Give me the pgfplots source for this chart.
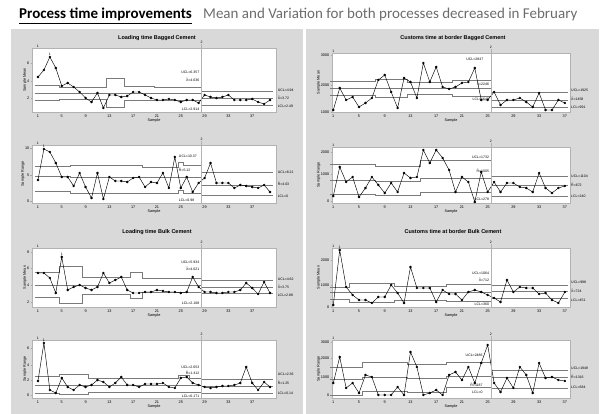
\documentclass[border=0pt]{standalone}
\usepackage{pgfplots}
\pgfplotsset{compat=1.18}
\usepackage{fontspec}
\setmainfont{Liberation Sans}
\newfontfamily\carlito{Carlito}
\definecolor{panel}{HTML}{D9D9D9}
\definecolor{limc}{HTML}{7A7A7A}
\tikzset{lbl/.style={font=\fontsize{3.5}{4}\selectfont, inner sep=0.4pt}}
\newcommand\XB{\={X}}
\newcommand\RB{\={R}}
\pgfplotsset{
 cc/.style={scale only axis, clip=false, axis background/.style={fill=white},
  axis line style={gray!60, line width=0.3pt}, ymin=0,
  tick style={gray!70,line width=0.3pt}, major tick length=1.5pt, tick align=outside,
  xtick pos=bottom, ytick pos=left, xtick={1,5,...,37},
  tick label style={font=\fontsize{3.8}{4}\selectfont, inner sep=1pt}, /pgf/number format/assume math mode=true,
  label style={font=\fontsize{3.8}{4}\selectfont},
  xlabel=Sample, xlabel style={yshift=3pt}, ylabel style={yshift=-4pt}},
 ccL/.style={cc, xmin=0, xmax=41, width=244pt},
 ccR/.style={cc, xmin=0.8, xmax=37.8, width=238pt},
 pts/.style={black, line width=0.45pt, mark=*, mark size=1pt, mark options={fill=black}},
 lim/.style={limc, line width=0.55pt, mark=none},
}
\begin{document}
\begin{tikzpicture}[x=1pt,y=1pt]
\path[use as bounding box] (0,0) rectangle (600,414);
\fill[panel] (11,0) rectangle (303,385);
\fill[panel] (306,0) rectangle (599,385);
\node[anchor=base west, inner sep=0, font=\carlito\fontsize{15}{17}\selectfont] at (19,395) {\underline{\textbf{Process time improvements}}};
\node[anchor=base west, inner sep=0, text=gray!85!black, font=\carlito\fontsize{15}{17}\selectfont] at (203,395) {Mean and Variation for both processes decreased in February};
\node[font=\bfseries\fontsize{5.5}{6}\selectfont] at (157,376) {Loading time Bagged Cement};
\node[font=\bfseries\fontsize{5.5}{6}\selectfont] at (453,376) {Customs time at border Bagged Cement};
\node[font=\bfseries\fontsize{5.5}{6}\selectfont] at (157,182) {Loading time Bulk Cement};
\node[font=\bfseries\fontsize{5.5}{6}\selectfont] at (453,182) {Customs time at border Bulk Cement};

% ---------- Chart 1: Loading Bagged, Xbar
\begin{axis}[ccL, at={(32pt,302pt)}, anchor=south west, height=64pt, ymax=64,
  ylabel={Sample Mean}, ytick={14,31,49}, yticklabels={2,4,6}]
\addplot[lim] coordinates {(0.5,27)(4.5,27)(4.5,25)(12.5,25)(12.5,34)(15.5,34)(15.5,26)(20.5,26)(20.5,25)(28.5,25)};
\addplot[lim] coordinates {(0.5,19)(28.5,19)};
\addplot[lim] coordinates {(0.5,12)(4.5,12)(4.5,13)(12.5,13)(12.5,5)(15.5,5)(15.5,12)(28.5,12)};
\addplot[lim] coordinates {(28.5,21)(40.5,21)};
\addplot[lim] coordinates {(28.5,14)(40.5,14)};
\addplot[lim] coordinates {(28.5,7)(40.5,7)};
\addplot[pts] table[row sep=\\, header=false, x expr=\coordindex+1, y index=0] {35\\42\\55\\44\\26\\29\\25\\20\\14\\10\\19\\4\\17\\17\\15\\16\\20\\20\\17\\14\\12\\12\\13\\12\\10\\12\\12\\9\\17\\15\\14\\15\\17\\12\\12\\12\\13\\10\\8\\12\\};
\draw[gray!60, line width=0.4pt] (axis cs:28.5,0) -- (axis cs:28.5,68);
\node[lbl, anchor=south] at (axis cs:28.5,68) {2};
\node[lbl, anchor=south] at (axis cs:1,64) {1};
\node[lbl, anchor=south] at (axis cs:3,56) {1};
\node[lbl, anchor=east] at (axis cs:28.2,40) {UCL=6.357};
\node[lbl, anchor=east] at (axis cs:28.2,32) {\XB=4.636};
\node[lbl, anchor=east] at (axis cs:28.2,3) {LCL=2.914};
\node[lbl, anchor=west] at (axis cs:41.2,22) {UCL=4.94};
\node[lbl, anchor=west] at (axis cs:41.2,14) {\XB=3.72};
\node[lbl, anchor=west] at (axis cs:41.2,6) {LCL=2.49};
\end{axis}

% ---------- Chart 2: Loading Bagged, R
\begin{axis}[ccL, at={(32pt,211pt)}, anchor=south west, height=58pt, ymax=58,
  ylabel={Sample Range}, ytick={2,28,55}, yticklabels={0,5,10}]
\addplot[lim] coordinates {(0.5,37)(6.5,37)(6.5,38)(18.5,38)(18.5,36)(24.5,36)(24.5,41)(25.5,41)(25.5,38)(28.5,38)};
\addplot[lim] coordinates {(0.5,27)(6.5,27)(6.5,26)(28.5,26)};
\addplot[lim] coordinates {(0.5,12)(6.5,12)(6.5,10)(24.5,10)(24.5,13)(25.5,13)(25.5,10)(28.5,10)};
\addplot[lim] coordinates {(28.5,31)(40.5,31)};
\addplot[lim] coordinates {(28.5,18)(40.5,18)};
\addplot[lim] coordinates {(28.5,8)(40.5,8)};
\addplot[pts] table[row sep=\\, header=false, x expr=\coordindex+1, y index=0] {23\\54\\51\\40\\26\\26\\17\\30\\16\\5\\30\\4\\26\\22\\22\\21\\25\\26\\16\\21\\20\\30\\15\\46\\15\\26\\11\\20\\25\\40\\20\\20\\20\\15\\18\\17\\16\\15\\18\\11\\};
\draw[gray!60, line width=0.4pt] (axis cs:28.5,0) -- (axis cs:28.5,62);
\node[lbl, anchor=south] at (axis cs:28.5,62) {2};
\node[lbl, anchor=south] at (axis cs:1,58) {1};
\node[lbl, anchor=south] at (axis cs:2,55) {1};
\node[lbl, anchor=west] at (axis cs:24.6,47) {UCL=10.37};
\node[lbl, anchor=west] at (axis cs:24.6,33) {\RB=5.12};
\node[lbl, anchor=west] at (axis cs:24.6,3) {LCL=0.98};
\node[lbl, anchor=west] at (axis cs:41.2,31) {UCL=8.21};
\node[lbl, anchor=west] at (axis cs:41.2,19) {\RB=4.03};
\node[lbl, anchor=west] at (axis cs:41.2,7) {LCL=0};
\end{axis}

% ---------- Chart 3: Loading Bulk, Xbar
\begin{axis}[ccL, at={(32pt,107pt)}, anchor=south west, height=59pt, ymax=59,
  ylabel={Sample Mean}, ytick={5,22,39,55}, yticklabels={2,4,6,8}]
\addplot[lim] coordinates {(0.5,35)(4.5,35)(4.5,41)(8.5,41)(8.5,30)(16.5,30)(16.5,35)(18.5,35)(18.5,29)(28.5,29)};
\addplot[lim] coordinates {(0.5,22)(28.5,22)};
\addplot[lim] coordinates {(0.5,10)(4.5,10)(4.5,4)(8.5,4)(8.5,13)(16.5,13)(16.5,9)(18.5,9)(18.5,15)(28.5,15)};
\addplot[lim] coordinates {(28.5,27)(40.5,27)};
\addplot[lim] coordinates {(28.5,20)(40.5,20)};
\addplot[lim] coordinates {(28.5,14)(40.5,14)};
\addplot[pts] table[row sep=\\, header=false, x expr=\coordindex+1, y index=0] {34\\34\\29\\14\\50\\17\\20\\22\\19\\17\\20\\34\\24\\27\\30\\17\\14\\14\\15\\15\\17\\16\\15\\15\\14\\15\\30\\20\\15\\15\\14\\14\\15\\15\\17\\24\\19\\13\\25\\14\\};
\draw[gray!60, line width=0.4pt] (axis cs:28.5,0) -- (axis cs:28.5,63);
\node[lbl, anchor=south] at (axis cs:28.5,63) {2};
\node[lbl, anchor=south] at (axis cs:1,59) {1};
\node[lbl, anchor=south] at (axis cs:5,51) {1};
\node[lbl, anchor=east] at (axis cs:28.2,45) {UCL=5.934};
\node[lbl, anchor=east] at (axis cs:28.2,38) {\XB=4.021};
\node[lbl, anchor=east] at (axis cs:28.2,4) {LCL=2.108};
\node[lbl, anchor=west] at (axis cs:41.2,28) {UCL=4.62};
\node[lbl, anchor=west] at (axis cs:41.2,20) {\XB=3.75};
\node[lbl, anchor=west] at (axis cs:41.2,12) {LCL=2.88};
\end{axis}

% ---------- Chart 4: Loading Bulk, R
\begin{axis}[ccL, at={(32pt,16pt)}, anchor=south west, height=58pt, ymax=58,
  ylabel={Sample Range}, ytick={3,18,33,50}, yticklabels={0,2,4,6}]
\addplot[lim] coordinates {(0.5,22)(4.5,22)(4.5,24)(9.5,24)(9.5,20)(24.5,20)(24.5,23)(26.5,23)(26.5,20)(28.5,20)};
\addplot[lim] coordinates {(0.5,13)(28.5,13)};
\addplot[lim] coordinates {(0.5,5)(4.5,5)(4.5,4)(9.5,4)(9.5,6)(28.5,6)};
\addplot[lim] coordinates {(28.5,19)(40.5,19)};
\addplot[lim] coordinates {(28.5,12)(40.5,12)};
\addplot[lim] coordinates {(28.5,5)(40.5,5)};
\addplot[pts] table[row sep=\\, header=false, x expr=\coordindex+1, y index=0] {17\\55\\8\\5\\20\\11\\8\\13\\11\\13\\18\\16\\11\\15\\21\\13\\13\\11\\14\\14\\14\\15\\11\\10\\20\\21\\15\\13\\11\\10\\11\\12\\12\\13\\15\\31\\15\\8\\16\\11\\};
\draw[gray!60, line width=0.4pt] (axis cs:28.5,0) -- (axis cs:28.5,62);
\node[lbl, anchor=south] at (axis cs:28.5,62) {2};
\node[lbl, anchor=south] at (axis cs:1,58) {1};
\node[lbl, anchor=south] at (axis cs:2,56) {1};
\node[lbl, anchor=east] at (axis cs:28.2,31) {UCL=2.653};
\node[lbl, anchor=east] at (axis cs:28.2,25) {\RB=1.412};
\node[lbl, anchor=east] at (axis cs:28.2,2) {LCL=0.171};
\node[lbl, anchor=west] at (axis cs:41.2,24) {UCL=2.36};
\node[lbl, anchor=west] at (axis cs:41.2,15) {\RB=1.25};
\node[lbl, anchor=west] at (axis cs:41.2,5) {LCL=0.14};
\end{axis}

% ---------- Chart 5: Customs Bagged, Xbar
\begin{axis}[ccR, at={(332pt,302pt)}, anchor=south west, height=59pt, ymax=59,
  ylabel={Sample Mean}, ytick={0,27,57}, yticklabels={1000,2000,3000}]
\addplot[lim] coordinates {(0.5,31)(7.5,31)(7.5,33)(12.5,33)(12.5,30)(19.5,30)(19.5,32)(25.5,32)};
\addplot[lim] coordinates {(0.5,24)(25.5,24)};
\addplot[lim] coordinates {(0.5,17)(7.5,17)(7.5,15)(12.5,15)(12.5,18)(19.5,18)(19.5,16)(25.5,16)};
\addplot[lim] coordinates {(25.5,20)(37.5,20)};
\addplot[lim] coordinates {(25.5,12)(37.5,12)};
\addplot[lim] coordinates {(25.5,5)(37.5,5)};
\addplot[pts] table[row sep=\\, header=false, x expr=\coordindex+1, y index=0] {2\\24\\12\\15\\5\\9\\14\\32\\37\\20\\4\\34\\30\\14\\49\\30\\45\\25\\23\\25\\29\\30\\44\\12\\12\\20\\7\\12\\12\\14\\10\\5\\19\\2\\2\\12\\9\\};
\draw[gray!60, line width=0.4pt] (axis cs:25.5,0) -- (axis cs:25.5,63);
\node[lbl, anchor=south] at (axis cs:25.5,63) {2};
\node[lbl, anchor=south] at (axis cs:1,59) {1};
\node[lbl, anchor=south] at (axis cs:23,51) {UCL=2847};
\node[lbl, anchor=east] at (axis cs:25.3,28) {\XB=2246};
\node[lbl, anchor=east] at (axis cs:25.3,13) {LCL=1646};
\node[lbl, anchor=west] at (axis cs:37.9,22) {UCL=1925};
\node[lbl, anchor=west] at (axis cs:37.9,13) {\XB=1458};
\node[lbl, anchor=west] at (axis cs:37.9,5) {LCL=991};
\end{axis}

% ---------- Chart 6: Customs Bagged, R
\begin{axis}[ccR, at={(332pt,211pt)}, anchor=south west, height=56pt, ymax=56,
  ylabel={Sample Range}, ytick={2,29,51}, yticklabels={0,1000,2000}]
\addplot[lim] coordinates {(0.5,39)(7.5,39)(7.5,37)(14.5,37)(14.5,43)(25.5,43)};
\addplot[lim] coordinates {(0.5,23)(7.5,23)(7.5,22)(14.5,22)(14.5,25)(25.5,25)};
\addplot[lim] coordinates {(0.5,9)(7.5,9)(7.5,8)(14.5,8)(14.5,11)(25.5,11)};
\addplot[lim] coordinates {(25.5,27)(37.5,27)};
\addplot[lim] coordinates {(25.5,18)(37.5,18)};
\addplot[lim] coordinates {(25.5,7)(37.5,7)};
\addplot[pts] table[row sep=\\, header=false, x expr=\coordindex+1, y index=0] {7\\36\\21\\26\\6\\15\\26\\18\\10\\20\\11\\30\\25\\26\\53\\40\\53\\45\\33\\11\\26\\21\\1\\31\\11\\21\\11\\20\\20\\16\\15\\11\\30\\15\\10\\15\\17\\};
\draw[gray!60, line width=0.4pt] (axis cs:25.5,0) -- (axis cs:25.5,60);
\node[lbl, anchor=south] at (axis cs:25.5,60) {2};
\node[lbl, anchor=south] at (axis cs:1,56) {1};
\node[lbl, anchor=east] at (axis cs:25.3,46) {UCL=1732};
\node[lbl, anchor=east] at (axis cs:25.3,32) {\RB=1005};
\node[lbl, anchor=east] at (axis cs:25.3,4) {LCL=278};
\node[lbl, anchor=west] at (axis cs:37.9,27) {UCL=1104};
\node[lbl, anchor=west] at (axis cs:37.9,18) {\RB=672};
\node[lbl, anchor=west] at (axis cs:37.9,7) {LCL=240};
\end{axis}

% ---------- Chart 7: Customs Bulk, Xbar
\begin{axis}[ccR, at={(332pt,107pt)}, anchor=south west, height=59pt, ymax=59,
  ylabel={Sample Mean}, ytick={0,22,47}, yticklabels={0,1000,2000}]
\addplot[lim] coordinates {(0.5,20)(3.5,20)(3.5,24)(10.5,24)(10.5,21)(18.5,21)(18.5,23)(25.5,23)};
\addplot[lim] coordinates {(0.5,15)(25.5,15)};
\addplot[lim] coordinates {(0.5,8)(3.5,8)(3.5,5)(10.5,5)(10.5,7)(18.5,7)(18.5,6)(25.5,6)};
\addplot[lim] coordinates {(25.5,22)(37.5,22)};
\addplot[lim] coordinates {(25.5,16)(37.5,16)};
\addplot[lim] coordinates {(25.5,9)(37.5,9)};
\addplot[pts] table[row sep=\\, header=false, x expr=\coordindex+1, y index=0] {2\\57\\20\\12\\7\\7\\4\\10\\10\\22\\14\\4\\40\\19\\19\\19\\5\\17\\13\\13\\7\\15\\17\\15\\12\\9\\5\\27\\15\\20\\19\\19\\13\\14\\7\\4\\15\\};
\draw[gray!60, line width=0.4pt] (axis cs:25.5,0) -- (axis cs:25.5,63);
\node[lbl, anchor=south] at (axis cs:25.5,63) {2};
\node[lbl, anchor=south] at (axis cs:1,59) {1};
\node[lbl, anchor=south] at (axis cs:2,58) {1};
\node[lbl, anchor=east] at (axis cs:25.3,34) {UCL=1064};
\node[lbl, anchor=east] at (axis cs:25.3,27) {\XB=712};
\node[lbl, anchor=east] at (axis cs:25.3,3) {LCL=360};
\node[lbl, anchor=west] at (axis cs:37.9,25) {UCL=998};
\node[lbl, anchor=west] at (axis cs:37.9,16) {\XB=724};
\node[lbl, anchor=west] at (axis cs:37.9,7) {LCL=451};
\end{axis}

% ---------- Chart 8: Customs Bulk, R
\begin{axis}[ccR, at={(332pt,16pt)}, anchor=south west, height=58pt, ymax=58,
  ylabel={Sample Range}, ytick={3,21,40,56}, yticklabels={0,1000,2000,3000}]
\addplot[lim] coordinates {(0.5,31)(5.5,31)(5.5,36)(12.5,36)(12.5,34)(18.5,34)(18.5,36)(25.5,36)};
\addplot[lim] coordinates {(0.5,19)(5.5,19)(5.5,21)(12.5,21)(12.5,20)(18.5,20)(18.5,22)(25.5,22)};
\addplot[lim] coordinates {(0.5,3)(5.5,3)(5.5,7)(12.5,7)(12.5,6)(18.5,6)(18.5,11)(25.5,11)};
\addplot[lim] coordinates {(25.5,28)(37.5,28)};
\addplot[lim] coordinates {(25.5,21)(37.5,21)};
\addplot[lim] coordinates {(25.5,10)(37.5,10)};
\addplot[pts] table[row sep=\\, header=false, x expr=\coordindex+1, y index=0] {15\\41\\10\\15\\5\\23\\21\\3\\3\\3\\11\\3\\46\\31\\3\\5\\8\\3\\23\\26\\18\\31\\15\\35\\53\\15\\6\\20\\10\\31\\23\\5\\35\\20\\21\\18\\17\\};
\draw[gray!60, line width=0.4pt] (axis cs:25.5,0) -- (axis cs:25.5,62);
\node[lbl, anchor=south] at (axis cs:25.5,62) {2};
\node[lbl, anchor=south] at (axis cs:1,58) {1};
\node[lbl, anchor=east] at (axis cs:24.3,43) {UCL=2486};
\node[lbl, anchor=east] at (axis cs:24.3,13) {\RB=1187};
\node[lbl, anchor=east] at (axis cs:24.3,6) {LCL=0};
\node[lbl, anchor=west] at (axis cs:37.9,30) {UCL=1948};
\node[lbl, anchor=west] at (axis cs:37.9,21) {\RB=1316};
\node[lbl, anchor=west] at (axis cs:37.9,11) {LCL=684};
\end{axis}
\end{tikzpicture}
\end{document}
